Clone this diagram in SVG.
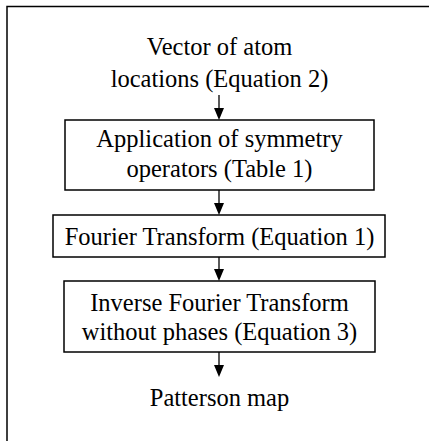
<svg xmlns="http://www.w3.org/2000/svg" width="429" height="441" viewBox="0 0 429 441">
<style>
.t{font-family:"Liberation Serif","Times New Roman",serif;font-size:24.5px;fill:#000;text-anchor:middle}
.b{fill:#fff;stroke:#000;stroke-width:1.5}
.c{stroke:#000;stroke-width:1.3;fill:none}
</style>
<rect width="429" height="441" fill="#fff"/>
<path d="M7,441 V6.5 H429" fill="none" stroke="#000" stroke-width="1.5"/>
<g id="connectors">
<line class="c" x1="219" y1="95" x2="219" y2="108"/>
<path d="M214,108 L224,108 L219,120 Z"/>
<line class="c" x1="219" y1="190" x2="219" y2="203"/>
<path d="M214,203 L224,203 L219,215 Z"/>
<line class="c" x1="219" y1="257" x2="219" y2="269"/>
<path d="M214,269 L224,269 L219,281 Z"/>
<line class="c" x1="219" y1="352" x2="219" y2="365"/>
<path d="M214,365 L224,365 L219,377 Z"/>
</g>
<g id="start">
<text class="t" x="219.5" y="55">Vector of atom</text>
<text class="t" x="219.5" y="87">locations (Equation 2)</text>
</g>
<g id="symmetry">
<rect class="b" x="65" y="120" width="309" height="70"/>
<text class="t" x="219.5" y="147">Application of symmetry</text>
<text class="t" x="219.5" y="177">operators (Table 1)</text>
</g>
<g id="fourier">
<rect class="b" x="53" y="215" width="332" height="42"/>
<text class="t" x="219.5" y="245">Fourier Transform (Equation 1)</text>
</g>
<g id="inverse">
<rect class="b" x="64" y="281" width="311" height="71"/>
<text class="t" x="219.5" y="311">Inverse Fourier Transform</text>
<text class="t" x="219.5" y="340">without phases (Equation 3)</text>
</g>
<g id="end">
<text class="t" x="219.5" y="406">Patterson map</text>
</g>
</svg>
